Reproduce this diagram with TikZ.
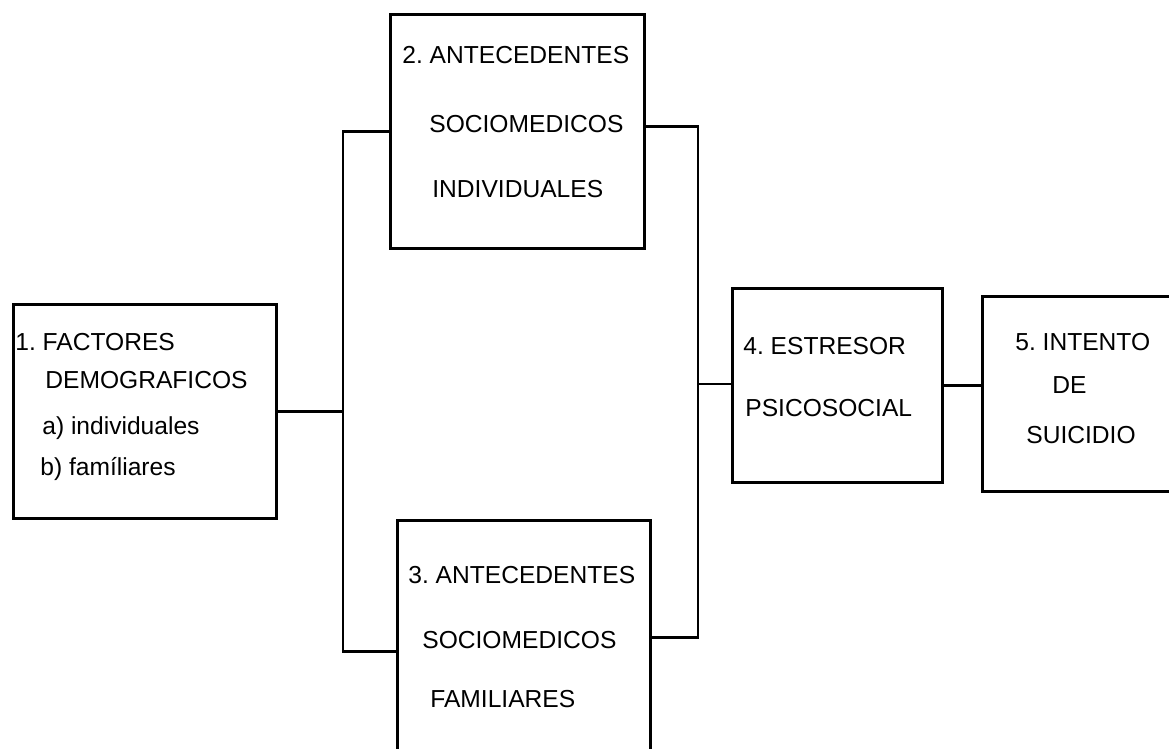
\documentclass[tikz,border=0pt]{standalone}
\usepackage{fontspec}
\setmainfont{Liberation Sans}
\frenchspacing
\tikzset{
  caja/.style={draw=black, line width=1.5pt, rectangle, anchor=north west, inner sep=0pt},
  rotulo/.style={anchor=base west, inner sep=0pt, font=\fontsize{14pt}{16pt}\selectfont},
  enlace/.style={draw=black, line width=1.5pt}
}
\begin{document}
\begin{tikzpicture}[x=0.02cm, y=-0.02cm]
  % page frame (reference is 1169 x 748, boxes run off the right and bottom edge)
  \clip (0,0) rectangle (1169,748);

  % --- boxes ---
  \node[caja, minimum width=5.26cm, minimum height=4.28cm] (fact)    at (12,303)  {};
  \node[caja, minimum width=5.08cm, minimum height=4.68cm] (antind)  at (389,13)  {};
  \node[caja, minimum width=5.06cm, minimum height=5.24cm] (antfam)  at (396,519) {};
  \node[caja, minimum width=4.20cm, minimum height=3.88cm] (estres)  at (731,287) {};
  \node[caja, minimum width=4.00cm, minimum height=3.90cm] (intento) at (981,295) {};

  % --- texts ---
  \node[rotulo] (fact1) at (15,350)   {1. FACTORES};
  \node[rotulo] (fact2) at (45,388)   {DEMOGRAFICOS};
  \node[rotulo] (fact3) at (42,434)   {a) individuales};
  \node[rotulo] (fact4) at (40,475)   {b) famíliares};

  \node[rotulo] (ind1) at (402,63)    {2. ANTECEDENTES};
  \node[rotulo] (ind2) at (429,132)   {SOCIOMEDICOS};
  \node[rotulo] (ind3) at (432,197)   {INDIVIDUALES};

  \node[rotulo] (fam1) at (408,583)   {3. ANTECEDENTES};
  \node[rotulo] (fam2) at (422,648)   {SOCIOMEDICOS};
  \node[rotulo] (fam3) at (430,707)   {FAMILIARES};

  \node[rotulo] (est1) at (743,354)   {4. ESTRESOR};
  \node[rotulo] (est2) at (745,416)   {PSICOSOCIAL};

  \node[rotulo] (int1) at (1015,350)  {5. INTENTO};
  \node[rotulo] (int2) at (1052,393)  {DE};
  \node[rotulo] (int3) at (1026,443)  {SUICIDIO};

  % --- connectors ---
  \coordinate (jizq) at (343,400);
  \coordinate (jder) at (698,384);
  \draw[enlace] (antind.west) -| (jizq) |- (antfam.west);
  \draw[enlace] (fact.east) -- (fact.east -| jizq);
  \draw[enlace] ([yshift=0.1cm]antind.east) -| (jder) |- ([yshift=0.28cm]antfam.east);
  \draw[enlace] (jder) -- (jder -| estres.west);
  \draw[enlace] (estres.east) -- (estres.east -| intento.west);
\end{tikzpicture}
\end{document}
